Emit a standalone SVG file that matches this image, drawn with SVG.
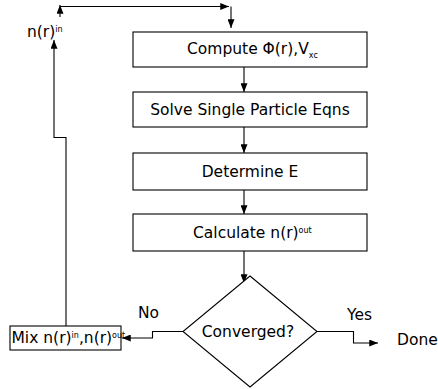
<svg xmlns="http://www.w3.org/2000/svg" width="438" height="389" viewBox="0 0 438 389">
<defs>
<marker id="ah" viewBox="0 0 10 8" refX="10" refY="4" markerWidth="9" markerHeight="7" markerUnits="userSpaceOnUse" orient="auto">
<path d="M0,0 L10,4 L0,8 Z" fill="#000"/>
</marker>
<style>
.box{fill:#fff;stroke:#000;stroke-width:1.1}
.t{font-family:"DejaVu Sans",sans-serif;font-size:15.5px;fill:#000}
.s{font-size:8px}
.c{fill:none;stroke:#000;stroke-width:1.1;marker-end:url(#ah)}
</style>
</defs>
<g id="connectors">
<path class="c" d="M244,67 V92"/>
<path class="c" d="M244,127 V153"/>
<path class="c" d="M244,190 V214"/>
<path class="c" d="M244,251 V283"/>
<path class="c" d="M183,331.5 H152.5 V338 H122"/>
<path class="c" d="M317,331.5 H353.5 V343 H378"/>
<path class="c" d="M66,326 V137.5 H54 V40"/>
<path class="c" d="M60,17 V5"/>
<path class="c" d="M60,6.5 H229"/>
<path class="c" d="M231,6.5 V28"/>
</g>
<g id="n_in">
<text class="t" x="27" y="37" font-size="14">n(r)<tspan class="s" dy="-5">in</tspan></text>
</g>
<g id="compute">
<rect class="box" x="133" y="32" width="234" height="35"/>
<text class="t" x="187" y="54">Compute Φ(r),V<tspan class="s" dy="4">xc</tspan></text>
</g>
<g id="solve">
<rect class="box" x="133" y="92" width="234" height="35"/>
<text class="t" x="250" y="115" text-anchor="middle">Solve Single Particle Eqns</text>
</g>
<g id="determine">
<rect class="box" x="133" y="153" width="234" height="37"/>
<text class="t" x="250" y="177" text-anchor="middle">Determine E</text>
</g>
<g id="calculate">
<rect class="box" x="133" y="214" width="234" height="37"/>
<text class="t" x="193" y="238">Calculate n(r)<tspan class="s" dy="-5">out</tspan></text>
</g>
<g id="converged">
<path class="box" d="M250,276 L317,331.5 L250,387 L183,331.5 Z"/>
<text class="t" x="248" y="337" text-anchor="middle">Converged?</text>
</g>
<g id="mix">
<rect class="box" x="10" y="326" width="111" height="24"/>
<text class="t" x="11.5" y="343" font-size="14">Mix n(r)<tspan class="s" dy="-5" font-size="7.5">in</tspan><tspan dy="5">,n(r)</tspan><tspan class="s" dy="-5" font-size="7.5">out</tspan></text>
</g>
<g id="labels">
<text class="t" x="138" y="318">No</text>
<text class="t" x="347" y="320" font-size="14">Yes</text>
<text class="t" x="397" y="345">Done</text>
</g>
</svg>
